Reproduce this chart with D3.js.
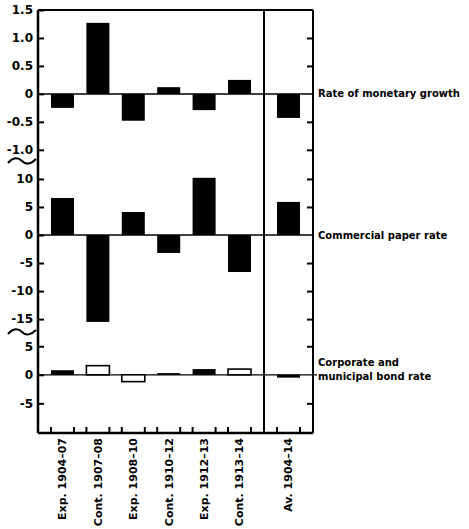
<!DOCTYPE html>
<html>
<head>
<meta charset="utf-8">
<script src="https://cdn.jsdelivr.net/npm/d3@7"></script>
<style>
body { margin: 0; background: #fff; }
text { font-family: "DejaVu Sans", "Liberation Sans", Arial, sans-serif; font-weight: bold; fill: #000; }
</style>
</head>
<body>
<script>
// data
var periods = ["Exp. 1904–07", "Cont. 1907–08", "Exp. 1908–10", "Cont. 1910–12", "Exp. 1912–13", "Cont. 1913–14"];
var average = ["Av. 1904–14"];
var monetaryGrowth = [-0.25, 1.27, -0.48, 0.12, -0.29, 0.25, -0.43];
var commercialPaper = [6.6, -15.5, 4.1, -3.2, 10.2, -6.6, 5.9];
var bondRate = [0.8, 1.6, -1.2, 0.3, 1.0, 1.0, -0.5];
var bondOpen = [false, true, true, false, false, true, false];
var topTicks = [1.5, 1.0, 0.5, 0, -0.5, -1.0];
var midTicks = [10, 5, 0, -5, -10, -15];
var lowTicks = [5, 0, -5];
var panelNames = ["Rate of monetary growth", "Commercial paper rate"];
var bondName = ["Corporate and", "municipal bond rate"];

var w = 469;
var h = 529;
var plotL = 38, plotR = 313, plotT = 10, plotB = 433, split = 264;

var svg = d3.select("body").append("svg")
    .attr("width", w)
    .attr("height", h);

// x scales: six periods, then the average after the divider
var xl = d3.scaleBand().domain(periods).range([plotL, split])
    .paddingInner(0.35).paddingOuter(0.367);
var xr = d3.scaleBand().domain(average).range([split, plotR])
    .paddingInner(0.35).paddingOuter(0.367);
var all = periods.concat(average);
function xpos(i) { return i < periods.length ? xl(all[i]) : xr(all[i]); }
var bw = xl.bandwidth();

// three stacked panels, each its own scale
var yTop = d3.scaleLinear().domain([-1.2, 1.5]).range([161, plotT]);
var yMid = d3.scaleLinear().domain([-17.3, 13.2]).range([332, 161]);
var yLow = d3.scaleLinear().domain([-10.2, 7.5]).range([plotB, 332]);

function fmt(d) {
  if (d === 0) return "0";
  var s = Number.isInteger(d) && Math.abs(d) >= 5 ? String(d) : d.toFixed(1);
  return s.replace("−", "-");
}

function drawAxis(y, ticks) {
  var g = svg.append("g").attr("transform", "translate(" + plotL + ",0)")
    .call(d3.axisLeft(y).tickValues(ticks).tickSizeInner(-6).tickSizeOuter(0)
      .tickPadding(5).tickFormat(fmt));
  g.select(".domain").remove();
  g.selectAll("line").attr("stroke-width", 2);
  g.selectAll("text").attr("font-size", 12)
    .style("font-family", "DejaVu Sans, Arial").style("font-weight", "bold");

  var r = svg.append("g").attr("transform", "translate(" + plotR + ",0)")
    .call(d3.axisRight(y).tickValues(ticks.filter(function(d) { return d !== 0 && d !== 1.5; }))
      .tickSizeInner(-6).tickSizeOuter(0).tickFormat(""));
  r.select(".domain").remove();
  r.selectAll("line").attr("stroke-width", 2);
}

drawAxis(yTop, topTicks);
drawAxis(yMid, midTicks);
drawAxis(yLow, lowTicks);

// zero lines
[yTop, yMid].forEach(function(y) {
  svg.append("line").attr("x1", plotL).attr("x2", plotR)
    .attr("y1", y(0)).attr("y2", y(0))
    .attr("stroke", "black").attr("stroke-width", 1.5);
});
svg.append("line").attr("x1", plotL).attr("x2", plotR + 4)
  .attr("y1", yLow(0)).attr("y2", yLow(0))
  .attr("stroke", "black").attr("stroke-width", 1.2);

// bars
function bars(values, y, open) {
  svg.append("g").selectAll("rect")
    .data(values)
    .enter().append("rect")
    .attr("x", function(d, i) { return xpos(i); })
    .attr("width", bw)
    .attr("y", function(d) { return y(Math.max(0, d)); })
    .attr("height", function(d) { return Math.abs(y(d) - y(0)); })
    .attr("fill", function(d, i) { return open && open[i] ? "white" : "black"; })
    .attr("stroke", "black")
    .attr("stroke-width", function(d, i) { return open && open[i] ? 1.6 : 0; });
}
bars(monetaryGrowth, yTop);
bars(commercialPaper, yMid);
bars(bondRate, yLow, bondOpen);

// frame
svg.append("line").attr("x1", plotL).attr("x2", plotR).attr("y1", plotT).attr("y2", plotT)
  .attr("stroke", "black").attr("stroke-width", 2);
svg.append("line").attr("x1", plotL).attr("x2", plotR).attr("y1", plotB).attr("y2", plotB)
  .attr("stroke", "black").attr("stroke-width", 2.5);
svg.append("line").attr("x1", plotL).attr("x2", plotL).attr("y1", plotT).attr("y2", plotB)
  .attr("stroke", "black").attr("stroke-width", 2.5);
svg.append("line").attr("x1", plotR).attr("x2", plotR).attr("y1", plotT).attr("y2", plotB)
  .attr("stroke", "black").attr("stroke-width", 2);
svg.append("line").attr("x1", split).attr("x2", split).attr("y1", plotT).attr("y2", plotB)
  .attr("stroke", "black").attr("stroke-width", 2);

// bottom ticks at bar edges
var edges = [];
all.forEach(function(c, i) { edges.push(xpos(i)); edges.push(xpos(i) + bw); });
svg.append("g").selectAll("line")
  .data(edges)
  .enter().append("line")
  .attr("x1", function(d) { return d; }).attr("x2", function(d) { return d; })
  .attr("y1", plotB).attr("y2", plotB - 6)
  .attr("stroke", "black").attr("stroke-width", 2);

// axis breaks
[161, 332].forEach(function(yb) {
  svg.append("path")
    .attr("d", "M8," + (yb + 2) + " C13," + (yb - 4) + " 18," + (yb - 4) + " 22," + yb +
      " S31," + (yb + 3) + " 36," + (yb - 2))
    .attr("fill", "none").attr("stroke", "black").attr("stroke-width", 2);
});

// category labels
svg.append("g").selectAll("text")
  .data(all)
  .enter().append("text")
  .attr("transform", function(d, i) {
    return "translate(" + (xpos(i) + bw / 2) + "," + (plotB + 5) + ") rotate(-90)";
  })
  .attr("text-anchor", "end")
  .attr("dy", "0.35em")
  .attr("font-size", 11)
  .text(function(d) { return d; });

// series labels
svg.append("text").attr("x", plotR + 5).attr("y", yTop(0)).attr("dy", "0.35em")
  .attr("font-size", 10).text(panelNames[0]);
svg.append("text").attr("x", plotR + 5).attr("y", yMid(0)).attr("dy", "0.35em")
  .attr("font-size", 10).text(panelNames[1]);
svg.append("text").attr("x", plotR + 5).attr("y", yLow(0) - 12).attr("dy", "0.35em")
  .attr("font-size", 10).text(bondName[0]);
svg.append("text").attr("x", plotR + 5).attr("y", yLow(0) + 2).attr("dy", "0.35em")
  .attr("font-size", 10).text(bondName[1]);
</script>
</body>
</html>
